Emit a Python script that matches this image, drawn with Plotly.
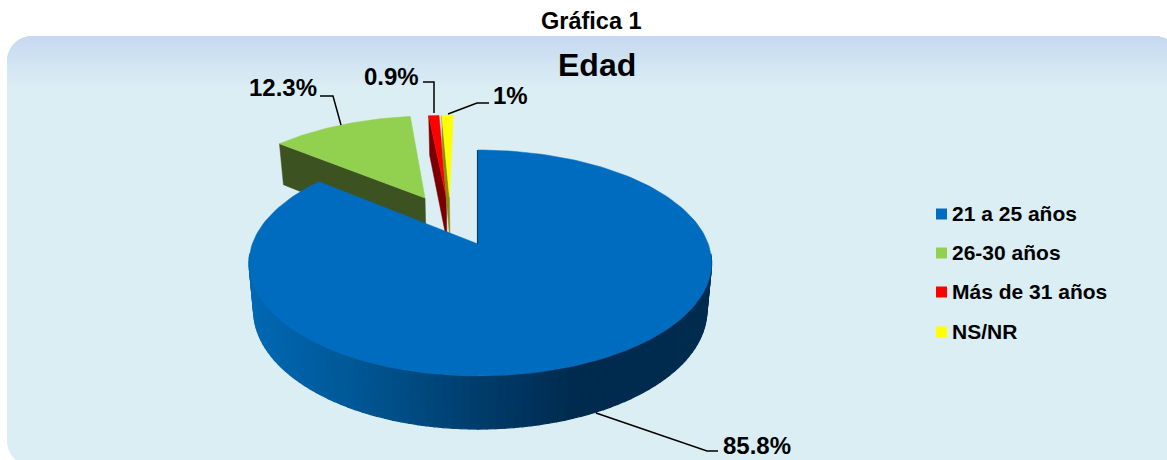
import math
import plotly.graph_objects as go

categories = ["21 a 25 años", "26-30 años", "Más de 31 años", "NS/NR"]
values = [85.8, 12.3, 0.9, 1]
top_colors = ["#006CBF", "#92D050", "#FF0000", "#FFFF00"]
wall_colors = ["#0B3F68", "#3C5220", "#7A0000", "#8A8A10"]
chart_title = "Gráfica 1"
pie_title = "Edad"

W, H = 1167, 460
CX, CY, A, B, P = 478, 244, 228, 109.8, 0.168
D0, D1, XS = 12.2, 34, 0.98
explode = [(0, 0), (-0.25, 0.4507), (-0.15, 0.46), (-0.135, 0.46)]
FONT = "Liberation Sans, Arial, sans-serif"


def top(u, v):
    s = 1 / (1 + P * v)
    return CX + A * u * s, CY - B * v * s


def low(u, v):
    s = 1 / (1 + P * v)
    return CX + A * u * s * XS, CY - B * v * s + D0 + D1 * s


def rim(deg, e):
    r = math.radians(deg)
    u = math.sin(r)
    if e == (0, 0):
        u *= 0.99 if u < 0 else 1.01
    return u + e[0], math.cos(r) + e[1]


def poly(pts, fill, lw=0.0):
    return go.Scatter(
        x=[p[0] for p in pts] + [pts[0][0]], y=[p[1] for p in pts] + [pts[0][1]],
        mode="lines", fill="toself", fillcolor=fill,
        line=dict(color=fill, width=lw), hoverinfo="skip", showlegend=False,
    )


def arc(a0, a1, e, fn=top, n=60):
    n = max(2, int(n))
    return [fn(*rim(a0 + (a1 - a0) * i / n, e)) for i in range(n + 1)]


def mix(stops, x):
    c = stops[-1][1]
    if x <= stops[0][0]:
        c = stops[0][1]
    else:
        for (x0, c0), (x1, c1) in zip(stops, stops[1:]):
            if x <= x1:
                t = (x - x0) / (x1 - x0)
                c = [round(a + (b - a) * t) for a, b in zip(c0, c1)]
                break
    return "rgb(%d,%d,%d)" % tuple(c)


# slice angles, clockwise from 12 o'clock, derived from the values
total = sum(values)
angles = []
acc = 0
for v in values:
    angles.append((acc, acc + v / total * 360))
    acc += v / total * 360

fig = go.Figure()

# exploded slices (back to front), each with its visible radial wall
for i in (1, 2, 3):
    a0, a1 = angles[i]
    e = explode[i]
    apex = top(e[0], e[1])
    apex_low = low(e[0], e[1])
    out = top(*rim(a0, e))
    out_low = low(*rim(a0, e))
    fig.add_trace(poly([out, out_low, apex_low, apex], wall_colors[i], 0.5))
    fig.add_trace(poly([apex] + arc(a0, a1, e), top_colors[i], 0.5))

# main slice: gradient side, top face, dark edge of the cut at 12 o'clock
a0, a1 = angles[0]
e = explode[0]
side_stops = [(253, (0, 104, 180)), (350, (0, 88, 150)), (470, (0, 62, 110)),
              (575, (0, 42, 78)), (710, (0, 44, 80))]
N = 90
for k in range(N):
    t0 = 95 + (265 - 95) * k / N
    t1 = 95 + (265 - 95) * (k + 1) / N
    pts = [top(*rim(t0, e)), top(*rim(t1, e)), low(*rim(t1, e)), low(*rim(t0, e))]
    fig.add_trace(poly(pts, mix(side_stops, sum(p[0] for p in pts) / 4), 1.2))
fig.add_trace(poly([top(0, 0)] + arc(a0, a1, e, n=200), top_colors[0], 0.5))
edge = [top(*rim(0, e)), top(0, 0)]
fig.add_trace(go.Scatter(x=[edge[0][0] - 0.5, edge[1][0] - 0.5], y=[edge[0][1], edge[1][1]], mode="lines",
                         line=dict(color=wall_colors[0], width=1.2), hoverinfo="skip", showlegend=False))

# leader lines
leaders = [[(596, 413), (707, 451), (718, 451)],
           [(320, 96), (333, 96), (341, 125)],
           [(423, 82), (434, 82), (434, 113)],
           [(489, 103), (477, 103), (448, 114)]]
for pts in leaders:
    fig.add_trace(go.Scatter(x=[p[0] for p in pts], y=[p[1] for p in pts], mode="lines",
                             line=dict(color="black", width=1.5), hoverinfo="skip", showlegend=False))

# legend
legend_y = [214, 253, 292, 332]
for name, col, y in zip(categories, top_colors, legend_y):
    fig.add_trace(go.Scatter(x=[941.5], y=[y], mode="markers",
                             marker=dict(symbol="square", size=11, color=col),
                             hoverinfo="skip", showlegend=False))

annots = []
for name, y in zip(categories, legend_y):
    annots.append(dict(x=950, y=y - 1, text=f"<b>{name}</b>", xanchor="left", yanchor="middle",
                       showarrow=False, font=dict(family=FONT, size=21, color="black")))
label_pos = [(756.5, 445), (282.5, 87), (391.5, 76), (510.5, 95)]
for v, (x, y) in zip(values, label_pos):
    annots.append(dict(x=x, y=y, text=f"<b>{v:g}%</b>", xanchor="center", yanchor="middle",
                       showarrow=False, font=dict(family=FONT, size=24, color="black")))
annots.append(dict(x=591, y=21, text=f"<b>{chart_title}</b>", xanchor="center", yanchor="middle",
                   showarrow=False, font=dict(family=FONT, size=23.5, color="black")))
annots.append(dict(x=597, y=65, text=f"<b>{pie_title}</b>", xanchor="center", yanchor="middle",
                   showarrow=False, font=dict(family=FONT, size=32, color="black")))

# panel: rounded rectangle, gradient at the top
PX0, PY0, PX1, PY1, R = 7, 36, 1180, 466, 25
corner = []
for (cx, cy, s) in [(PX0 + R, PY0 + R, 180), (PX1 - R, PY0 + R, 270), (PX1 - R, PY1 - R, 0), (PX0 + R, PY1 - R, 90)]:
    for i in range(13):
        r = math.radians(s + i * 7.5)
        corner.append((cx + R * math.cos(r), cy + R * math.sin(r)))
path = "M" + "L".join(f"{x:.1f},{y:.1f}" for x, y in corner) + "Z"
shapes = [dict(type="path", path=path, fillcolor="#DBEEF4", line=dict(width=0), layer="below")]
G0, G1 = (198, 217, 241), (219, 238, 244)
GH = 52
for j in range(GH):
    t = j / (GH - 1)
    col = "rgb(%d,%d,%d)" % tuple(round(a + (b - a) * t) for a, b in zip(G0, G1))
    yy = PY0 + j + 0.5
    d = max(0, R - (yy - PY0))
    ins = R - math.sqrt(max(0, R * R - d * d))
    shapes.append(dict(type="rect", x0=PX0 + ins, x1=PX1 - ins, y0=PY0 + j, y1=PY0 + j + 1,
                       fillcolor=col, line=dict(width=0), layer="below"))

fig.update_layout(
    width=W, height=H, margin=dict(l=0, r=0, t=0, b=0),
    paper_bgcolor="white", plot_bgcolor="rgba(0,0,0,0)", showlegend=False,
    xaxis=dict(range=[0, W], visible=False, fixedrange=True),
    yaxis=dict(range=[H, 0], visible=False, fixedrange=True),
    shapes=shapes, annotations=annots,
)
fig.write_html("out.html", config={"displayModeBar": False},
               post_script="document.body.style.margin='0';document.body.style.overflow='hidden';")
